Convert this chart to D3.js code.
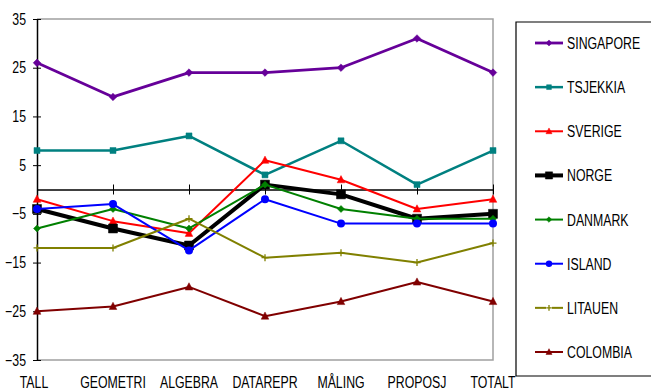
<!DOCTYPE html>
<html>
<head>
<meta charset="utf-8">
<script src="https://cdn.jsdelivr.net/npm/d3@7"></script>
<style>
  html, body { margin: 0; padding: 0; background: #fff; }
  svg { display: block; }
  text { font-family: "Liberation Sans", Arial, sans-serif; font-size: 16px; fill: #000; }
</style>
</head>
<body>
<svg id="chart" width="651" height="392"></svg>
<script>
// Categories along the x axis
const categories = ["TALL", "GEOMETRI", "ALGEBRA", "DATAREPR", "MÅLING", "PROPOSJ", "TOTALT"];

// Y axis tick values
const yTicks = [35, 25, 15, 5, -5, -15, -25, -35];

// Series values, one array per country (same order as categories)
const singapore = [26, 19, 24, 24, 25, 31, 24];
const tsjekkia  = [8, 8, 11, 3, 10, 1, 8];
const sverige   = [-2, -6.5, -9, 6, 2, -4, -2];
const norge     = [-4, -8, -11.5, 1, -1, -6, -5];
const danmark   = [-8, -4, -8, 1, -4, -6, -6];
const island    = [-4, -3, -12.5, -2, -7, -7, -7];
const litauen   = [-12, -12, -6, -14, -13, -15, -11];
const colombia  = [-25, -24, -20, -26, -23, -19, -23];

const seriesNames = ["SINGAPORE", "TSJEKKIA", "SVERIGE", "NORGE", "DANMARK", "ISLAND", "LITAUEN", "COLOMBIA"];
const seriesValues = [singapore, tsjekkia, sverige, norge, danmark, island, litauen, colombia];

// Visual styling for each series
const styles = [
  { color: "#660099", width: 2.8, marker: "diamond",  size: 3.8 },
  { color: "#008080", width: 2.5, marker: "square",   size: 3 },
  { color: "#ff0000", width: 2,   marker: "triangle", size: 3.8 },
  { color: "#000000", width: 4,   marker: "square",   size: 4.5 },
  { color: "#008000", width: 2,   marker: "diamond",  size: 3.5 },
  { color: "#0000ff", width: 2,   marker: "circle",   size: 4 },
  { color: "#808000", width: 2,   marker: "plus",     size: 3.5 },
  { color: "#800000", width: 2,   marker: "triangle", size: 3.8 }
];

const svg = d3.select("#chart");
const TX = 0.77; // horizontal squeeze of all labels

const plot = { left: 37, right: 493, top: 19, bottom: 360 };

const x = d3.scalePoint().domain(categories).range([plot.left, plot.right]);
const y = d3.scaleLinear().domain([-35, 35]).range([plot.bottom, plot.top]);

// Plot area frame (grey top, right and bottom edges)
svg.append("path")
  .attr("d", `M${plot.left},${plot.top}H${plot.right}V${plot.bottom}H${plot.left}`)
  .attr("fill", "none").attr("stroke", "#a0a0a0").attr("stroke-width", 1.5);

// Y axis
const yAxis = d3.axisLeft(y).tickValues(yTicks).tickSize(0).tickFormat(d3.format("d"));
const yg = svg.append("g").attr("transform", `translate(${plot.left},0)`).call(yAxis);
yg.select(".domain").attr("stroke", "#000").attr("stroke-width", 1.5);
yg.selectAll(".tick line").remove();
yg.selectAll(".tick").append("line")
  .attr("x1", -4).attr("x2", 4).attr("stroke", "#000").attr("stroke-width", 1);
yg.selectAll(".tick text")
  .attr("x", null).attr("dy", null)
  .attr("text-anchor", "end")
  .attr("transform", `translate(-11,5) scale(${TX},1)`)
  .style("font-size", "16px")
  .style("font-family", "Liberation Sans, Arial, sans-serif");

// X axis line at zero with crossing tick marks
const xAxis = d3.axisBottom(x).tickSize(0).tickSizeOuter(0).tickFormat("");
const xg = svg.append("g").attr("transform", `translate(0,${y(0)})`).call(xAxis);
xg.select(".domain").attr("stroke", "#000").attr("stroke-width", 1.5);
xg.selectAll(".tick line").remove();
xg.selectAll(".tick").append("line")
  .attr("y1", -5).attr("y2", 5).attr("stroke", "#000").attr("stroke-width", 1);

// Category labels below the plot
svg.append("g").selectAll("text").data(categories).join("text")
  .attr("text-anchor", "middle")
  .attr("transform", (d, i) => `translate(${x(d) - (i === 0 ? 3 : 0)},${388}) scale(${TX},1)`)
  .text(d => d);

// Marker drawing
function markerPath(type, s) {
  switch (type) {
    case "diamond":  return `M0,${-s}L${s},0L0,${s}L${-s},0Z`;
    case "square":   return `M${-s},${-s}H${s}V${s}H${-s}Z`;
    case "triangle": return `M0,${-s * 1.1}L${s},${s * 0.8}L${-s},${s * 0.8}Z`;
    case "plus":     return `M${-s},0H${s}M0,${-s}V${s}`;
    default:         return null;
  }
}
function drawMarker(g, st, cx, cy) {
  if (st.marker === "circle") {
    g.append("circle").attr("cx", cx).attr("cy", cy).attr("r", st.size)
      .attr("fill", st.color);
  } else if (st.marker === "plus") {
    g.append("path").attr("transform", `translate(${cx},${cy})`)
      .attr("d", markerPath("plus", st.size))
      .attr("stroke", st.color).attr("stroke-width", 1.3).attr("fill", "none");
  } else {
    g.append("path").attr("transform", `translate(${cx},${cy})`)
      .attr("d", markerPath(st.marker, st.size))
      .attr("fill", st.color).attr("stroke", st.color).attr("stroke-width", 0.5);
  }
}

const line = d3.line().x((d, i) => x(categories[i])).y(d => y(d));

seriesValues.forEach((vals, si) => {
  const st = styles[si];
  const g = svg.append("g");
  g.append("path").datum(vals)
    .attr("d", line)
    .attr("fill", "none")
    .attr("stroke", st.color)
    .attr("stroke-width", st.width)
    .attr("stroke-linejoin", "round");
  vals.forEach((v, i) => drawMarker(g, st, x(categories[i]), y(v)));
});

// Legend
const legend = { left: 516, top: 22, bottom: 376 };
svg.append("path")
  .attr("d", `M660,${legend.top}H${legend.left}V${legend.bottom}H660`)
  .attr("fill", "none").attr("stroke", "#000").attr("stroke-width", 1.2);

const legendY = d3.scalePoint().domain(seriesNames).range([43, 352]);
seriesNames.forEach((name, si) => {
  const st = styles[si];
  const ly = legendY(name);
  const g = svg.append("g");
  if (st.marker === "plus") {
    g.append("line").attr("x1", 535).attr("x2", 546).attr("y1", ly).attr("y2", ly)
      .attr("stroke", st.color).attr("stroke-width", st.width);
    g.append("line").attr("x1", 552).attr("x2", 563).attr("y1", ly).attr("y2", ly)
      .attr("stroke", st.color).attr("stroke-width", st.width);
  } else {
    g.append("line").attr("x1", 535).attr("x2", 563).attr("y1", ly).attr("y2", ly)
      .attr("stroke", st.color).attr("stroke-width", st.width);
  }
  const ms = Object.assign({}, st, { size: st.size * 0.8 });
  drawMarker(g, ms, 549, ly);
  g.append("text")
    .attr("transform", `translate(567,${ly + 6}) scale(${TX},1)`)
    .text(name);
});
</script>
</body>
</html>
